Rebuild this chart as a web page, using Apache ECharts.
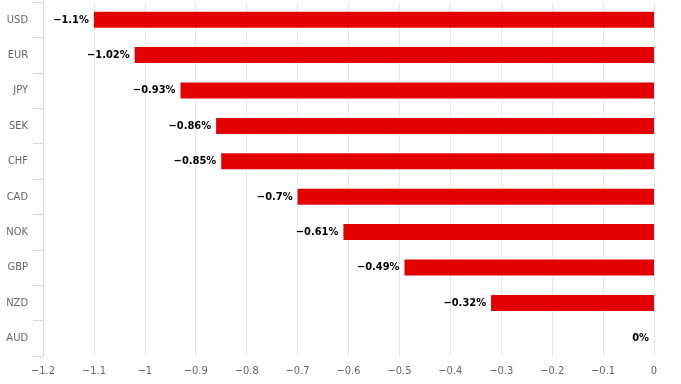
<!DOCTYPE html>
<html><head><meta charset="utf-8">
<script src="https://cdn.jsdelivr.net/npm/echarts@6/dist/echarts.min.js"></script>
<style>html,body{margin:0;padding:0;background:#fff}#c{width:681px;height:384px}</style>
</head><body><div id="c"></div>
<script>
const categories = ['USD','EUR','JPY','SEK','CHF','CAD','NOK','GBP','NZD','AUD'];
const values = [-1.1,-1.02,-0.93,-0.86,-0.85,-0.7,-0.61,-0.49,-0.32,0];
const xMin = -1.2, xMax = 0, xStep = 0.1;
const fmt = v => String(+v.toFixed(2)).replace('-', '\u2212');
const FONT = '"DejaVu Sans Condensed", "DejaVu Sans", sans-serif';
const chart = echarts.init(document.getElementById('c'), null, {renderer:'canvas'});
chart.setOption({
  animation:false,
  grid:{left:43,right:27,top:2,bottom:28,containLabel:false},
  xAxis:{type:'value',min:xMin,max:xMax,interval:xStep,
    axisLine:{show:false},axisTick:{show:false},
    splitLine:{show:true,lineStyle:{color:'#e6e6e6',width:1}},
    axisLabel:{color:'#666',fontSize:11,fontFamily:FONT,margin:10,formatter:v=>fmt(v)}},
  yAxis:{type:'category',data:categories,inverse:true,
    axisLine:{show:true,onZero:false,lineStyle:{color:'#ccd6eb',width:1}},
    axisTick:{show:true,length:10,lineStyle:{color:'#ccd6eb'}},
    axisLabel:{color:'#666',fontSize:11,fontFamily:FONT,margin:15}},
  series:[{type:'bar',data:values,barWidth:16,itemStyle:{color:'#e30000',borderWidth:0},
    label:{show:true,position:'left',distance:5,color:'#000',fontWeight:'bold',fontSize:11,fontFamily:FONT,
      formatter:p=>fmt(p.value)+'%'}}]
});
</script></body></html>
